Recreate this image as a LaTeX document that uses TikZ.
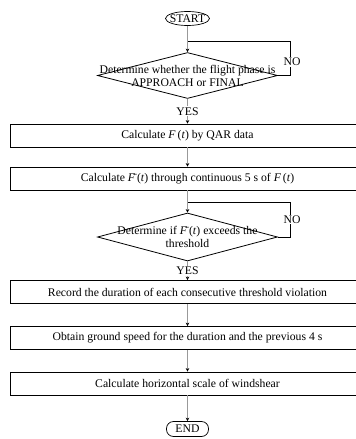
\documentclass[tikz,border=0pt]{standalone}
\usepackage{fontspec}
\setmainfont{Liberation Serif}
\usetikzlibrary{shapes.geometric,arrows.meta}
\newcommand{\Ft}{\textit{F}\,(\textit{t})}
\newcommand{\Fbart}{\={\textit{F}}\,(\textit{t})}
\tikzset{
  every node/.style={font=\fontsize{11.7}{13}\selectfont},
  stepbox/.style={draw, line width=0.8pt, minimum width=355pt, minimum height=23pt, inner sep=0pt},
  decision/.style={draw, diamond, line width=0.8pt, minimum width=180pt, minimum height=46pt, inner sep=0pt},
  terminal/.style={draw, line width=0.7pt, inner sep=0pt},
  flow/.style={draw=black!40, line width=0.8pt, -{Stealth[length=3.5pt,width=3.5pt,color=black]}},
  loopline/.style={draw, line width=0.7pt},
  tag/.style={fill=white, inner sep=1pt},
}
\begin{document}
\begin{tikzpicture}[x=1pt,y=-1pt]
\useasboundingbox (0,0) rectangle (356,439);

%% start and end
\node [terminal, ellipse, minimum width=44pt, minimum height=14pt, label=center:START] (start) at (187.5,18.5) {};
\node [terminal, rounded corners=7pt, minimum width=42pt, minimum height=15pt] (end) at (187.5,429) {END};

%% first decision
\node [decision, label={[align=center]center:Determine whether the flight phase is\\APPROACH or FINAL}] (phase) at (187.5,75.5) {};

%% the boxes
\node [stepbox] (qar) at (187.5,135.5) {Calculate \Ft{} by QAR data};
\node [stepbox] (mean) at (187.5,178.5) {Calculate \Fbart{} through continuous 5 s of \Ft};

%% second decision
\node [decision, minimum height=48pt, label={[align=center]center:Determine if \Fbart{} exceeds the\\threshold}] (thres) at (187.5,237) {};

\node [stepbox] (record) at (187.5,292) {Record the duration of each consecutive threshold violation};
\node [stepbox] (speed) at (187.5,338) {Obtain ground speed for the duration and the previous 4 s};
\node [stepbox] (scale) at (187.5,383.5) {Calculate horizontal scale of windshear};

%% arrows down the chart
\draw [flow] (start) -- (phase);
\draw [flow] (phase) -- node [tag] {YES} (qar);
\draw [flow] (qar) -- (mean);
\draw [flow] (mean) -- (thres);
\draw [flow] (thres) -- node [tag] {YES} (record);
\draw [flow] (record) -- (speed);
\draw [flow] (speed) -- (scale);
\draw [flow] (scale) -- (end);

%% the NO loops
\coordinate (phasein) at (187.5,41);
\coordinate (phaseback) at (290,41);
\draw [loopline] (phase.east) -| node [tag, pos=0.7, xshift=2pt] {NO} (phaseback) -- (phasein);

\coordinate (thresin) at (187.5,202);
\coordinate (thresback) at (290,202);
\draw [loopline] (thres.east) -| node [tag, pos=0.75, xshift=2pt] {NO} (thresback) -- (thresin);

\end{tikzpicture}
\end{document}
